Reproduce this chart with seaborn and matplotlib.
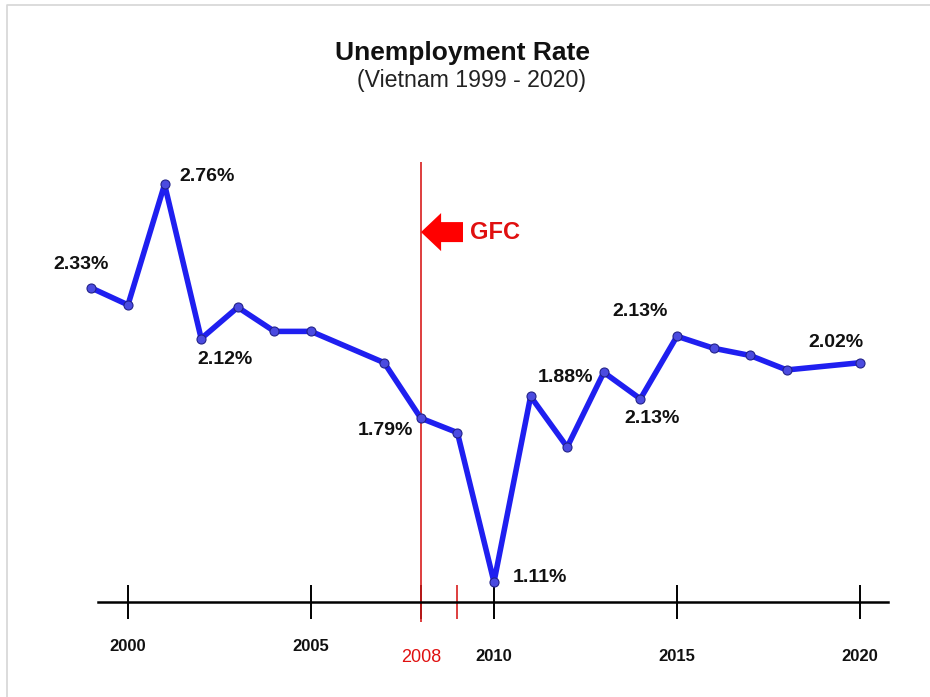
import matplotlib
matplotlib.use("Agg")
import matplotlib.pyplot as plt
import seaborn as sns
import pandas as pd
from matplotlib.patches import FancyArrow
from matplotlib.lines import Line2D

# -------------------------------------------------------------------
# data
# -------------------------------------------------------------------
years = [1999, 2000, 2001, 2002, 2003, 2004, 2005, 2007, 2008, 2009,
         2010, 2011, 2012, 2013, 2014, 2015, 2016, 2017, 2018, 2020]
rates = [2.33, 2.26, 2.76, 2.12, 2.25, 2.15, 2.15, 2.02, 1.79, 1.73,
         1.11, 1.88, 1.67, 1.98, 1.87, 2.13, 2.08, 2.05, 1.99, 2.02]

# labelled points: (year, text, offset in pixels)
label_years = [1999, 2001, 2002, 2008, 2010, 2011, 2015, 2014, 2020]
label_texts = ["2.33%", "2.76%", "2.12%", "1.79%", "1.11%", "1.88%", "2.13%", "2.13%", "2.02%"]
label_offsets = [(-10, 24), (42, 8), (24, -21), (-35, -12), (46, 5),
                 (35, 19), (-37, 25), (12, -20), (-24, 20)]

tick_years = [2000, 2005, 2008, 2010, 2015, 2020]
gfc_year = 2008

df = pd.DataFrame({"year": years, "rate": rates})

# -------------------------------------------------------------------
# plot
# -------------------------------------------------------------------
sns.set_style("white")
plt.rcParams["font.family"] = ["Liberation Sans", "DejaVu Sans"]

fig = plt.figure(figsize=(9.3, 6.97), dpi=100)
ax = fig.add_axes([0, 0, 1, 1])
ax.set_xlim(1996.503, 2021.913)
ax.set_ylim(0.633, 3.525)
ax.patch.set_alpha(0)

# red GFC line
ax.vlines(gfc_year, 0.944, 2.853, color="#d81e1e", linewidth=1.2, zorder=1)

sns.lineplot(data=df, x="year", y="rate", ax=ax, color="#1f1ff0", linewidth=4,
             marker="o", markersize=6.5, markerfacecolor="#4b4be0",
             markeredgecolor="#22228a", markeredgewidth=0.8, zorder=3)

for yr, txt, off in zip(label_years, label_texts, label_offsets):
    ax.annotate(txt, xy=(yr, rates[years.index(yr)]), xytext=off,
                textcoords="offset pixels", ha="center", va="center",
                fontsize=14, fontweight="bold", color="#111111")

# arrow + GFC text
ax.add_patch(FancyArrow(2009.153, 2.562, -1.148, 0, width=0.083, head_width=0.158,
                        head_length=0.55, length_includes_head=True,
                        color="red", linewidth=0))
ax.text(2009.35, 2.562, "GFC", color="#e01010", fontsize=17, fontweight="bold",
        ha="left", va="center")

# axis
for s in ["left", "top", "right"]:
    ax.spines[s].set_visible(False)
ax.spines["bottom"].set_position(("data", 1.027))
ax.spines["bottom"].set_bounds(1999.18, 2020.77)
ax.spines["bottom"].set_linewidth(1.8)
ax.spines["bottom"].set_color("black")
ax.set_yticks([])
ax.set_xticks(tick_years)
ax.set_xticklabels([str(t) for t in tick_years])
ax.set_xticks([2009], minor=True)
ax.tick_params(axis="x", which="both", direction="inout", length=25, width=1.4,
               color="black", labelsize=12, bottom=True)
ax.tick_params(axis="x", which="minor", color="#d81e1e", width=1.2)
ax.set_xlabel("")
ax.set_ylabel("")
for t in ax.get_xticklabels():
    t.set_fontweight("bold")
    t.set_color("#111111")
for yr, tick in zip(tick_years, ax.xaxis.get_major_ticks()):
    tick.set_pad(14 if yr < 2008 else 21)
    if yr == gfc_year:
        tick.tick1line.set_color("#d81e1e")
        tick.label1.set_color("#e01010")
        tick.label1.set_fontweight("normal")
        tick.label1.set_fontsize(13)

# titles
fig.text(0.497, 1 - 53 / 697, "Unemployment Rate", ha="center", va="center",
         fontsize=19, fontweight="bold", color="#111111")
fig.text(0.507, 1 - 81 / 697, "(Vietnam 1999 - 2020)", ha="center", va="center",
         fontsize=16.7, color="#222222")

# faint frame on left and top
fig.add_artist(Line2D([7 / 930, 7 / 930, 1], [0, 1 - 5 / 697, 1 - 5 / 697],
                      transform=fig.transFigure, color="#d6d6d6", linewidth=1.2))

fig.savefig("out.png", dpi=100)
